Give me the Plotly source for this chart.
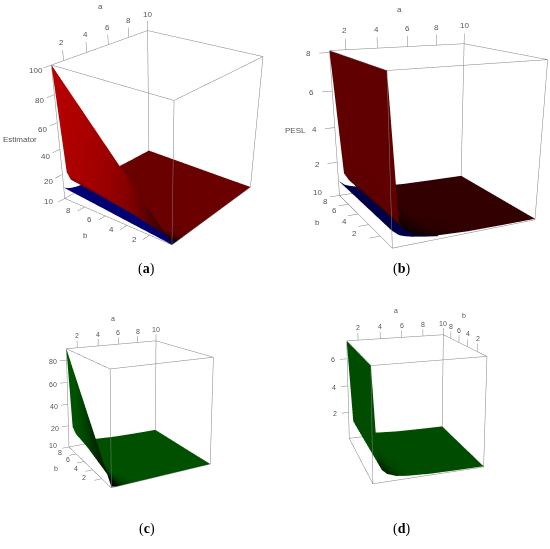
import math
import plotly.graph_objects as go

# grid
a_grid = [1, 1.4, 1.7, 2.1, 2.8, 3.7, 5.5, 7.7, 10]
a_low = [1, 1.4, 1.7, 2.1, 2.8, 3.7]  # the blue surface only shows at small a
b_grid = [0.1, 2, 4, 6, 8, 10]

a_ticks = [2, 4, 6, 8, 10]
b_ticks = [2, 4, 6, 8, 10]

estimator_red = [
    [1, 0.2, 0.13, 0.08, 0.05, 0.03, 0.02, 0.01, 0.01],
    [20, 4, 2.5, 1.7, 1, 0.67, 0.4, 0.27, 0.2],
    [40, 8, 5, 3.3, 2, 1.33, 0.8, 0.53, 0.4],
    [60, 12, 7.5, 5, 3, 2, 1.2, 0.8, 0.6],
    [80, 16, 10, 6.7, 4, 2.67, 1.6, 1.07, 0.8],
    [100, 20, 12.5, 8.3, 5, 3.33, 2, 1.33, 1],
]
estimator_blue = [
    [0.09, 0.07, 0.06, 0.05, 0.03, 0.01],
    [1.8, 1.3, 1.1, 0.9, 0.67, 0.3],
    [3.6, 2.7, 2.2, 1.8, 1.3, 0.6],
    [5.5, 4, 3.3, 2.7, 2, 0.9],
    [7.3, 5.3, 4.4, 3.6, 2.7, 1.2],
    [9.1, 6.7, 5.6, 4.5, 3.3, 1.5],
]
pesl_red = [
    [8.1, 1.3, 0.85, 0.55, 0.33, 0.2, 0.1, 0.07, 0.05],
    [8.1, 1.3, 0.85, 0.55, 0.33, 0.2, 0.1, 0.07, 0.05],
    [8.1, 1.3, 0.85, 0.55, 0.33, 0.2, 0.1, 0.07, 0.05],
    [8.1, 1.3, 0.85, 0.55, 0.33, 0.2, 0.1, 0.07, 0.05],
    [8.1, 1.3, 0.85, 0.55, 0.33, 0.2, 0.1, 0.07, 0.05],
    [8.1, 1.3, 0.85, 0.55, 0.33, 0.2, 0.1, 0.07, 0.05],
]
pesl_blue = [
    [0.9, 0.6, 0.5, 0.4, 0.28, 0.15],
    [0.9, 0.6, 0.5, 0.4, 0.28, 0.15],
    [0.9, 0.6, 0.5, 0.4, 0.28, 0.15],
    [0.9, 0.6, 0.5, 0.4, 0.28, 0.15],
    [0.9, 0.6, 0.5, 0.4, 0.28, 0.15],
    [0.9, 0.6, 0.5, 0.4, 0.28, 0.15],
]
estimator_green = [
    [0.9, 0.18, 0.11, 0.07, 0.05, 0.03, 0.02, 0.01, 0.01],
    [18, 3.6, 2.2, 1.5, 0.9, 0.6, 0.36, 0.24, 0.18],
    [36, 7.2, 4.5, 3, 1.8, 1.2, 0.72, 0.48, 0.36],
    [54, 10.8, 6.7, 4.5, 2.7, 1.8, 1.08, 0.72, 0.54],
    [72, 14.4, 9, 6, 3.6, 2.4, 1.44, 0.96, 0.72],
    [90, 18, 11, 7.5, 4.5, 3, 1.8, 1.2, 0.9],
]
pesl_green = [
    [7.3, 1.3, 0.8, 0.5, 0.28, 0.18, 0.09, 0.06, 0.045],
    [7.3, 1.3, 0.8, 0.5, 0.28, 0.18, 0.09, 0.06, 0.045],
    [7.3, 1.3, 0.8, 0.5, 0.28, 0.18, 0.09, 0.06, 0.045],
    [7.3, 1.3, 0.8, 0.5, 0.28, 0.18, 0.09, 0.06, 0.045],
    [7.3, 1.3, 0.8, 0.5, 0.28, 0.18, 0.09, 0.06, 0.045],
    [7.3, 1.3, 0.8, 0.5, 0.28, 0.18, 0.09, 0.06, 0.045],
]

# shading of each surface, 0 = black, 1 = full colour
shade_a = [
    [0.08, 0.08, 0.35, 0.5, 0.58, 0.58, 0.58, 0.58, 0.58],
    [0.45, 0.42, 0.5, 0.58, 0.58, 0.58, 0.58, 0.58, 0.58],
    [0.75, 0.7, 0.58, 0.58, 0.58, 0.58, 0.58, 0.58, 0.58],
    [0.88, 0.82, 0.6, 0.58, 0.58, 0.58, 0.58, 0.58, 0.58],
    [0.95, 0.9, 0.65, 0.58, 0.58, 0.58, 0.58, 0.58, 0.58],
    [1, 0.95, 0.7, 0.58, 0.58, 0.58, 0.58, 0.58, 0.58],
]
shade_b = [
    [0.97, 0.95, 0.3, 0.1, 0.2, 0.35, 0.5, 0.5, 0.5],
    [0.97, 0.95, 0.35, 0.2, 0.3, 0.45, 0.5, 0.5, 0.5],
    [0.97, 0.95, 0.4, 0.3, 0.4, 0.5, 0.5, 0.5, 0.5],
    [0.97, 0.95, 0.45, 0.4, 0.5, 0.5, 0.5, 0.5, 0.5],
    [0.97, 0.95, 0.5, 0.5, 0.5, 0.5, 0.5, 0.5, 0.5],
    [0.97, 0.95, 0.5, 0.5, 0.5, 0.5, 0.5, 0.5, 0.5],
]
shade_c = [
    [0.1, 0.1, 0.4, 0.6, 0.8, 0.8, 0.8, 0.8, 0.8],
    [0.25, 0.25, 0.6, 0.8, 0.8, 0.8, 0.8, 0.8, 0.8],
    [0.45, 0.45, 0.7, 0.8, 0.8, 0.8, 0.8, 0.8, 0.8],
    [0.65, 0.65, 0.8, 0.8, 0.8, 0.8, 0.8, 0.8, 0.8],
    [0.8, 0.8, 0.8, 0.8, 0.8, 0.8, 0.8, 0.8, 0.8],
    [0.85, 0.85, 0.8, 0.8, 0.8, 0.8, 0.8, 0.8, 0.8],
]
shade_d = [
    [0.9, 0.9, 0.5, 0.45, 0.7, 0.9, 0.9, 0.9, 0.9],
    [0.9, 0.9, 0.55, 0.55, 0.8, 0.9, 0.9, 0.9, 0.9],
    [0.9, 0.9, 0.65, 0.7, 0.9, 0.9, 0.9, 0.9, 0.9],
    [0.9, 0.9, 0.75, 0.8, 0.9, 0.9, 0.9, 0.9, 0.9],
    [0.9, 0.9, 0.8, 0.9, 0.9, 0.9, 0.9, 0.9, 0.9],
    [0.9, 0.9, 0.85, 0.9, 0.9, 0.9, 0.9, 0.9, 0.9],
]

GREY = "#808080"
LABEL = "#555555"
W, H = 550, 549
PAD = 0.6  # axis range runs past the box so the scene annotations stay on


def box_lines(lo, hi):
    xs, ys, zs = [], [], []
    (x0, y0, z0), (x1, y1, z1) = lo, hi
    for y, z in [(y0, z0), (y1, z0), (y0, z1), (y1, z1)]:
        xs += [x0, x1, None]
        ys += [y, y, None]
        zs += [z, z, None]
    for x, z in [(x0, z0), (x1, z0), (x0, z1), (x1, z1)]:
        xs += [x, x, None]
        ys += [y0, y1, None]
        zs += [z, z, None]
    for x, y in [(x0, y0), (x1, y0), (x0, y1), (x1, y1)]:
        xs += [x, x, None]
        ys += [y, y, None]
        zs += [z0, z1, None]
    return xs, ys, zs


def camera(az, el, dist, dom_px, target):
    # eye stays put, only the look-at point moves, so the box can sit off the canvas middle
    ca, sa = math.cos(math.radians(az)), math.sin(math.radians(az))
    ce, se = math.cos(math.radians(el)), math.sin(math.radians(el))
    view = (ca * ce, sa * ce, -se)
    right = (sa, -ca, 0)
    up = (ca * se, sa * se, ce)
    px0, py0, px1, py1 = dom_px
    scale = (py1 - py0) / (2 * dist * math.tan(math.radians(22.5)))
    dx = ((px0 + px1) / 2 - target[0]) / scale
    dy = (target[1] - (py0 + py1) / 2) / scale
    c = [right[i] * dx + up[i] * dy for i in range(3)]
    e = [-view[i] * dist for i in range(3)]
    return dict(eye=dict(x=e[0], y=e[1], z=e[2]), center=dict(x=c[0], y=c[1], z=c[2]),
                up=dict(x=0, y=0, z=1))


def add_panel(fig, sid, surfaces, z_top, z_ticks, z_title, title_at, a_title_h, dom_px, cam, fs, b_on_top=False):
    x0, x1 = a_grid[0], a_grid[-1]
    y0, y1 = b_grid[0], b_grid[-1]
    z0 = 0
    dz = z_top - z0
    span = x1 - x0

    for xs, z, shade, col in surfaces:
        fig.add_trace(go.Surface(
            x=xs, y=b_grid, z=z, surfacecolor=shade, cmin=0, cmax=1, scene=sid,
            showscale=False, hoverinfo="skip",
            colorscale=[[0, "#000000"], [1, col]] if shade else [[0, col], [1, col]],
            lighting=dict(ambient=1, diffuse=0, specular=0, roughness=1, fresnel=0),
        ))

    bx, by, bz = box_lines((x0, y0, z0), (x1, y1, z_top))
    tx, ty, tz = [], [], []
    notes = []

    def note(x, y, z, text):
        notes.append(dict(x=x, y=y, z=z, text=text, showarrow=False,
                          font=dict(family="Liberation Sans", size=fs, color=LABEL)))

    for v in a_ticks:
        tx += [v, v, None]
        ty += [y1, y1, None]
        tz += [z_top, z_top + 0.07 * dz, None]
        note(v, y1, z_top + 0.12 * dz, str(v))
    note((x0 + x1) / 2, y1, z_top + a_title_h * dz, "a")

    for v in b_ticks:
        if b_on_top:
            tx += [x1, x1, None]
            ty += [v, v, None]
            tz += [z_top, z_top + 0.07 * dz, None]
            if v != y1:  # the a axis already prints this 10
                note(x1, v, z_top + 0.12 * dz, str(v))
        else:
            tx += [x0, x0 - 0.07 * span, None]
            ty += [v, v, None]
            tz += [z0, z0, None]
            note(x0 - 0.16 * span, v, z0 + 0.05 * dz, str(v))
    if b_on_top:
        note(x1, (y0 + y1) / 2, z_top + 0.27 * dz, "b")
    else:
        note(x0 - 0.3 * span, (y0 + y1) / 2, z0 + 0.03 * dz, "b")

    for v in z_ticks:
        tx += [x0, x0 - 0.07 * span, None]
        ty += [y1, y1, None]
        tz += [v, v, None]
        note(x0 - 0.14 * span, y1, v, str(v))
    if z_title:
        note(x0 - title_at[0] * span, y1, title_at[1] * dz, z_title)

    fig.add_trace(go.Scatter3d(x=bx + tx, y=by + ty, z=bz + tz, mode="lines", scene=sid,
                               line=dict(color=GREY, width=1), hoverinfo="skip", showlegend=False))

    px0, py0, px1, py1 = dom_px
    fig.update_layout(**{sid: dict(
        domain=dict(x=[px0 / W, px1 / W], y=[1 - py1 / H, 1 - py0 / H]),
        xaxis=dict(visible=False, range=[x0 - PAD * span, x1 + PAD * span]),
        yaxis=dict(visible=False, range=[y0 - PAD * (y1 - y0), y1 + PAD * (y1 - y0)]),
        zaxis=dict(visible=False, range=[z0 - PAD * dz, z_top + PAD * dz]),
        aspectmode="manual",
        aspectratio=dict(x=1 + 2 * PAD, y=1 + 2 * PAD, z=1 + 2 * PAD),
        camera=cam,
        annotations=notes,
    )})


fig = go.Figure()
dom_a = (0, 0, 318, 520)
dom_b = (312, 0, 550, 480)
dom_c = (0, 150, 273, 549)
dom_d = (274, 130, 550, 549)
add_panel(fig, "scene", [(a_grid, estimator_red, shade_a, "#b80000"), (a_low, estimator_blue, None, "#000070")], 100,
          [20, 40, 60, 80, 100], "Estimator", (0.34, 0.6), 0.27, dom_a, camera(38, 24, 4.55, dom_a, (159, 131)), 8)
add_panel(fig, "scene2", [(a_grid, pesl_red, shade_b, "#640000"), (a_low, pesl_blue, None, "#000048")], 8.1,
          [2, 4, 6, 8], "PESL", (0.27, 0.5), 0.24, dom_b, camera(64, 14, 3.83, dom_b, (432, 135)), 8)
add_panel(fig, "scene3", [(a_grid, estimator_green, shade_c, "#006400")], 90,
          [20, 40, 60, 80], "", None, 0.27, dom_c, camera(62, 17, 4.56, dom_c, (136.5, 405)), 7)
add_panel(fig, "scene4", [(a_grid, pesl_green, shade_d, "#005400")], 7.3,
          [2, 4, 6], "", None, 0.27, dom_d, camera(72, 18.5, 4.7, dom_d, (412, 401)), 7, b_on_top=True)

for text, x, y in [("(<b>a</b>)", 136, 269), ("(<b>b</b>)", 412, 269), ("(<b>c</b>)", 137, 539), ("(<b>d</b>)", 412, 539)]:
    fig.add_annotation(x=x / W, y=1 - y / H, xref="paper", yref="paper", showarrow=False, text=text,
                       font=dict(family="Liberation Serif", size=14, color="#000000"))

fig.update_layout(width=W, height=H, margin=dict(l=0, r=0, t=0, b=0),
                  paper_bgcolor="white", showlegend=False)
fig.write_html("out.html", config={"displayModeBar": False},
               post_script="document.body.style.margin='0';")
